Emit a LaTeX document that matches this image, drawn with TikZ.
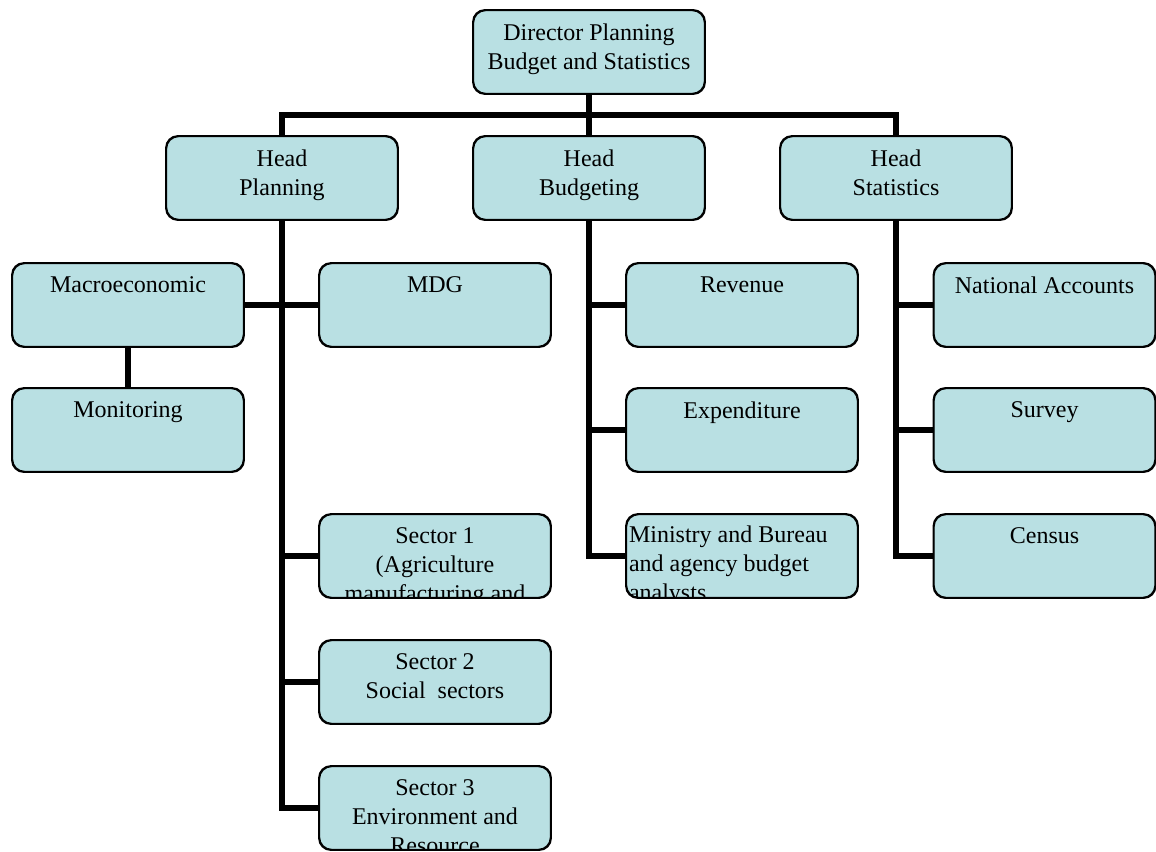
\documentclass[tikz,border=0pt]{standalone}
\usepackage{fontspec}
\setmainfont{Liberation Serif}
\definecolor{boxfill}{HTML}{B9E0E3}
\pgfdeclarelayer{background}
\pgfsetlayers{background,main}
\tikzset{
  orgbox/.style={draw=black, line width=1.4pt, fill=boxfill, rounded corners=12pt,
    minimum width=231pt, minimum height=83pt, inner sep=0pt},
  boxedge/.style={draw=black, line width=1.4pt, rounded corners=12pt},
  boxtext/.style={font=\fontsize{24}{29}\selectfont, align=center, inner sep=0pt,
    anchor=north, text=black},
  link/.style={line width=5.5pt, line join=miter, line cap=rect},
}
% a unit box whose text hangs from the top edge and is cut off by the frame
% #1 name, #2 centre, #3 width, #4 text
\newcommand\orgunit[4]{%
  \node[orgbox, minimum width=#3] (#1) at (#2) {};
  \begin{scope}
    \clip[rounded corners=12pt] (#1.south west) rectangle (#1.north east);
    \node[boxtext] at ([yshift=-13.5pt]#1.north) {#4};
  \end{scope}
  \path[boxedge] (#1.south west) rectangle (#1.north east);
}
% same, with the text set flush left
\newcommand\orgunitleft[4]{%
  \node[orgbox, minimum width=#3] (#1) at (#2) {};
  \begin{scope}
    \clip[rounded corners=12pt] (#1.south west) rectangle (#1.north east);
    \node[boxtext, align=left, anchor=north west] at ([xshift=3pt,yshift=-11.5pt]#1.north west) {#4};
  \end{scope}
  \path[boxedge] (#1.south west) rectangle (#1.north east);
}
\begin{document}
\begin{tikzpicture}[x=1pt, y=-1pt]
\useasboundingbox (0,0) rectangle (1156,851);

\coordinate (bus) at (589,115);

% top of the hierarchy
\orgunit{dir}{589,52}{231pt}{Director Planning\\Budget and Statistics}
\orgunit{headP}{282,178}{231pt}{Head\\Planning}
\orgunit{headB}{589,178}{231pt}{Head\\Budgeting}
\orgunit{headS}{896,178}{231pt}{Head\\Statistics}

% planning units
\orgunit{macro}{128,305}{231pt}{Macroeconomic}
\orgunit{monit}{128,430}{231pt}{Monitoring}
\orgunit{mdg}{435,305}{231pt}{MDG}
\orgunit{sec1}{435,556}{231pt}{Sector 1\\(Agriculture\\manufacturing and}
\orgunit{sec2}{435,682}{231pt}{Sector 2\\Social~~sectors}
\orgunit{sec3}{435,808}{231pt}{Sector 3\\Environment and\\Resource}

% budgeting units
\orgunit{rev}{742,305}{231pt}{Revenue}
\orgunit{expd}{742,430}{231pt}{Expenditure}
\orgunitleft{mini}{742,556}{231pt}{Ministry and Bureau\\and agency budget\\analysts}

% statistics units
\orgunit{natacc}{1044.5,305}{221pt}{National Accounts}
\orgunit{survey}{1044.5,430}{221pt}{Survey}
\orgunit{census}{1044.5,556}{221pt}{Census}

% connectors, kept behind the boxes
\begin{pgfonlayer}{background}
\draw[link] (headP.north) |- (bus) -| (headS.north);
\draw[link] (dir.south) -- (headB.north);

\draw[link] (headP.south) |- (sec3.west);
\draw[link] (macro.east) -- (mdg.west);
\draw[link] (macro.south) -- (monit.north);
\draw[link] (headP.south |- sec1.west) -- (sec1.west);
\draw[link] (headP.south |- sec2.west) -- (sec2.west);

\draw[link] (headB.south) |- (mini.west);
\draw[link] (headB.south |- rev.west) -- (rev.west);
\draw[link] (headB.south |- expd.west) -- (expd.west);

\draw[link] (headS.south) |- (census.west);
\draw[link] (headS.south |- natacc.west) -- (natacc.west);
\draw[link] (headS.south |- survey.west) -- (survey.west);
\end{pgfonlayer}
\end{tikzpicture}
\end{document}
